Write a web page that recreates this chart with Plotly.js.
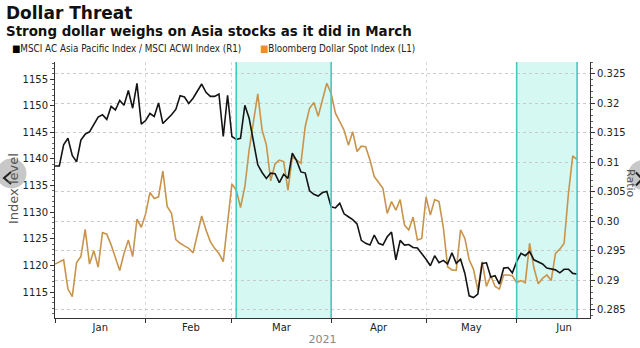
<!DOCTYPE html>
<html>
<head>
<meta charset="utf-8">
<script src="https://cdn.plot.ly/plotly-3.0.1.min.js"></script>
<style>
  html, body { margin: 0; padding: 0; background: #ffffff; }
  #chart { width: 640px; height: 348px; }
</style>
</head>
<body>
<div id="chart"></div>
<script>
// ---- Data (weekday observations, 2021) ----
const dates = [
  '2021-01-01','2021-01-04','2021-01-05','2021-01-06','2021-01-07','2021-01-08','2021-01-11','2021-01-12','2021-01-13','2021-01-14','2021-01-15','2021-01-18','2021-01-19','2021-01-20','2021-01-21','2021-01-22','2021-01-25','2021-01-26','2021-01-27','2021-01-28','2021-01-29',
  '2021-02-01','2021-02-02','2021-02-03','2021-02-04','2021-02-05','2021-02-08','2021-02-09','2021-02-10','2021-02-11','2021-02-12','2021-02-15','2021-02-16','2021-02-17','2021-02-18','2021-02-19','2021-02-22','2021-02-23','2021-02-24','2021-02-25','2021-02-26',
  '2021-03-01','2021-03-02','2021-03-03','2021-03-04','2021-03-05','2021-03-08','2021-03-09','2021-03-10','2021-03-11','2021-03-12','2021-03-15','2021-03-16','2021-03-17','2021-03-18','2021-03-19','2021-03-22','2021-03-23','2021-03-24','2021-03-25','2021-03-26','2021-03-29','2021-03-30','2021-03-31',
  '2021-04-01','2021-04-02','2021-04-05','2021-04-06','2021-04-07','2021-04-08','2021-04-09','2021-04-12','2021-04-13','2021-04-14','2021-04-15','2021-04-16','2021-04-19','2021-04-20','2021-04-21','2021-04-22','2021-04-23','2021-04-26','2021-04-27','2021-04-28','2021-04-29','2021-04-30',
  '2021-05-03','2021-05-04','2021-05-05','2021-05-06','2021-05-07','2021-05-10','2021-05-11','2021-05-12','2021-05-13','2021-05-14','2021-05-17','2021-05-18','2021-05-19','2021-05-20','2021-05-21','2021-05-24','2021-05-25','2021-05-26','2021-05-27','2021-05-28','2021-05-31',
  '2021-06-01','2021-06-02','2021-06-03','2021-06-04','2021-06-07','2021-06-08','2021-06-09','2021-06-10','2021-06-11','2021-06-14','2021-06-15','2021-06-16','2021-06-17','2021-06-18','2021-06-21'
];

// MSCI AC Asia Pacific / MSCI ACWI ratio (right axis, R1)
const msciRatio = [
  0.3094,0.3094,0.3130,0.3141,0.3112,0.3101,0.3138,0.3148,0.3152,0.3164,0.3177,0.3181,0.3173,0.3195,0.3189,0.3205,0.3197,0.3222,0.3192,0.3234,0.3165,
  0.3171,0.3183,0.3178,0.3201,0.3166,0.3173,0.3181,0.3190,0.3213,0.3211,0.3200,0.3209,0.3220,0.3233,0.3219,0.3212,0.3212,0.3216,0.3144,0.3214,
  0.3144,0.3139,0.3141,0.3197,0.3175,0.3138,0.3096,0.3083,0.3073,0.3082,0.3081,0.3066,0.3080,0.3073,0.3116,0.3103,0.3084,0.3082,0.3052,0.3046,0.3043,0.3049,0.3051,
  0.3025,0.3023,0.3031,0.3013,0.3008,0.3003,0.2996,0.2968,0.2963,0.2960,0.2977,0.2963,0.2960,0.2974,0.2982,0.2935,0.2968,0.2960,0.2961,0.2956,0.2955,0.2946,
  0.2936,0.2925,0.2942,0.2930,0.2934,0.2928,0.2947,0.2929,0.2936,0.2912,0.2874,0.2871,0.2877,0.2929,0.2930,0.2906,0.2908,0.2894,0.2921,0.2922,0.2913,
  0.2932,0.2946,0.2942,0.2949,0.2935,0.2932,0.2928,0.2921,0.2919,0.2918,0.2913,0.2919,0.2919,0.2912,0.2911
];

// Bloomberg Dollar Spot Index (left axis, L1)
const dollarSpot = [
  1120.3,1120.75,1121.1,1115.6,1114.2,1120.6,1121.7,1126.8,1120.3,1122.8,1119.7,1126.2,1125.9,1123.9,1121.4,1119.1,1122.3,1124.8,1121.7,1128.7,1127.2,
  1129.7,1133.7,1132.6,1132.9,1137.75,1131.1,1129.8,1124.9,1124.2,1123.7,1123.25,1122.4,1125.9,1129.3,1126.7,1124.5,1123.25,1122.3,1120.75,1128.6,
  1135.3,1134.2,1130.9,1134.8,1141.7,1147.0,1152.2,1145.4,1142.6,1135.9,1139.1,1139.8,1139.5,1134.1,1140.4,1139.8,1139.2,1146.1,1149.5,1150.6,1148.0,1151.1,1154.2,
  1152.3,1148.6,1147.0,1145.4,1142.6,1145.1,1141.4,1142.4,1142.3,1139.8,1136.7,1135.6,1134.5,1129.8,1132.0,1130.4,1132.4,1127.6,1126.7,1129.1,1124.8,1125.1,
  1132.9,1129.5,1132.4,1132.0,1127.2,1119.8,1119.2,1119.1,1126.7,1125.1,1121.1,1119.3,1115.4,1120.75,1116.1,1118.1,1116.1,1115.6,1118.25,1118.25,1118.1,
  1116.8,1117.2,1116.8,1124.2,1119.6,1116.6,1117.6,1118.25,1117.2,1122.3,1123.1,1124.2,1133.5,1140.6,1139.9
];

// Axis ticks / labels
const monthTickVals = ['2021-01-15 12:00','2021-02-15 12:00','2021-03-16 12:00','2021-04-16','2021-05-17 12:00','2021-06-16'];
const monthTickText = ['Jan','Feb','Mar','Apr','May','Jun'];
const monthStarts = ['2021-01-01','2021-02-01','2021-03-01','2021-04-01','2021-05-03','2021-06-01'];
const leftTicks = [1115,1120,1125,1130,1135,1140,1145,1150,1155];
const rightTicks = [0.285,0.29,0.295,0.30,0.305,0.31,0.315,0.32,0.325];
const rightTickText = ['0.285','0.29','0.295','0.30','0.305','0.31','0.315','0.32','0.325'];
const highlightBands = [['2021-03-02','2021-04-01'],['2021-06-01','2021-06-21']];

// ---- Layout geometry ----
const W = 640, H = 348;
const M = {l: 55, r: 50, t: 62, b: 30};
const PW = W - M.l - M.r, PH = H - M.t - M.b;
const px = x => (x - M.l) / PW;         // pixel -> paper x
const py = y => (H - M.b - y) / PH;     // pixel -> paper y

const FONT = 'DejaVu Sans, Verdana, sans-serif';
const COND = 'DejaVu Sans Condensed, DejaVu Sans, sans-serif';

const traces = [
  {
    x: dates, y: dollarSpot, yaxis: 'y', type: 'scatter', mode: 'lines',
    name: 'Bloomberg Dollar Spot Index (L1)',
    line: {color: '#c8944c', width: 1.6}
  },
  {
    x: dates, y: msciRatio, yaxis: 'y2', type: 'scatter', mode: 'lines',
    name: 'MSCI AC Asia Pacific Index / MSCI ACWI Index (R1)',
    line: {color: '#141414', width: 1.6}
  }
];

const shapes = [];
highlightBands.forEach(b => {
  shapes.push({type: 'rect', xref: 'x', yref: 'paper', x0: b[0], x1: b[1], y0: 0, y1: 1,
    fillcolor: '#d6f8f2', line: {width: 0}, layer: 'below'});
});
highlightBands.forEach(b => {
  b.forEach(d => shapes.push({type: 'line', xref: 'x', yref: 'paper', x0: d, x1: d, y0: 0, y1: 1,
    line: {color: '#45c9bf', width: 1.6}, layer: 'above'}));
});
// screenshot navigation circles
shapes.push({type: 'circle', xref: 'paper', yref: 'paper', xsizemode: 'pixel', ysizemode: 'pixel',
  xanchor: px(11.5), yanchor: py(173.5), x0: -15, x1: 15, y0: -15, y1: 15,
  fillcolor: 'rgba(185,185,185,0.78)', line: {width: 0}, layer: 'above'});
shapes.push({type: 'circle', xref: 'paper', yref: 'paper', xsizemode: 'pixel', ysizemode: 'pixel',
  xanchor: px(643), yanchor: py(175), x0: -15, x1: 15, y0: -15, y1: 15,
  fillcolor: 'rgba(185,185,185,0.78)', line: {width: 0}, layer: 'above'});
shapes.push({type: 'path', xref: 'paper', yref: 'paper', xsizemode: 'pixel', ysizemode: 'pixel',
  xanchor: px(7.5), yanchor: py(178), path: 'M 3.5 6 L -3.5 0 L 3.5 -6',
  line: {color: '#222', width: 2}, layer: 'above'});
shapes.push({type: 'path', xref: 'paper', yref: 'paper', xsizemode: 'pixel', ysizemode: 'pixel',
  xanchor: px(639), yanchor: py(179), path: 'M -3 6.5 L 3 0 L -3 -6.5',
  line: {color: '#222', width: 2}, layer: 'above'});

const annotations = [
  {xref: 'paper', yref: 'paper', x: px(4), y: py(13), xanchor: 'left', yanchor: 'middle', showarrow: false,
   text: '<b>Dollar Threat</b>', font: {family: FONT, size: 17, color: '#111'}},
  {xref: 'paper', yref: 'paper', x: px(4), y: py(31), xanchor: 'left', yanchor: 'middle', showarrow: false,
   text: '<b>Strong dollar weighs on Asia stocks as it did in March</b>', font: {family: FONT, size: 13.4, color: '#111'}},
  {xref: 'paper', yref: 'paper', x: px(10), y: py(48), xanchor: 'left', yanchor: 'middle', showarrow: false,
   text: '<span style="color:#000">■</span>MSCI AC Asia Pacific Index / MSCI ACWI Index (R1)', font: {family: COND, size: 9.8, color: '#222'}},
  {xref: 'paper', yref: 'paper', x: px(258), y: py(48), xanchor: 'left', yanchor: 'middle', showarrow: false,
   text: '<span style="color:#e8902c">■</span>Bloomberg Dollar Spot Index (L1)', font: {family: COND, size: 9.8, color: '#222'}},
  {xref: 'paper', yref: 'paper', x: px(13), y: py(189), xanchor: 'center', yanchor: 'middle', showarrow: false,
   textangle: -90, text: 'Index level', font: {family: FONT, size: 13, color: '#555'}},
  {xref: 'paper', yref: 'paper', x: px(631), y: py(183), xanchor: 'center', yanchor: 'middle', showarrow: false,
   textangle: 90, text: 'Ratio', font: {family: FONT, size: 11, color: '#555'}}
];

const layout = {
  width: W, height: H,
  margin: M,
  paper_bgcolor: '#ffffff', plot_bgcolor: '#ffffff',
  showlegend: false,
  font: {family: FONT, size: 10, color: '#222'},
  xaxis: {
    type: 'date',
    range: ['2021-01-01', '2021-06-24'],
    rangebreaks: [{bounds: ['sat', 'mon']}],
    tickmode: 'array', tickvals: monthTickVals, ticktext: monthTickText,
    ticks: '', showgrid: false, zeroline: false,
    showline: true, linecolor: '#333', linewidth: 1,
    tickfont: {family: FONT, size: 10, color: '#222'},
    minor: {tickmode: 'array', tickvals: monthStarts, ticks: 'outside', ticklen: 4, tickcolor: '#333',
            showgrid: true, gridcolor: '#d8d8d8', gridwidth: 1, griddash: 'dot'},
    title: {text: '2021', font: {family: FONT, size: 11, color: '#888'}, standoff: 3}
  },
  yaxis: {
    range: [1110.18, 1158.19],
    tickmode: 'array', tickvals: leftTicks,
    ticks: 'outside', ticklen: 4, tickcolor: '#333',
    showline: true, linecolor: '#333', linewidth: 1,
    showgrid: false, zeroline: false,
    tickfont: {family: FONT, size: 10, color: '#222'},
    minor: {tickmode: 'linear', tick0: 1110, dtick: 1, ticks: 'outside', ticklen: 2, tickcolor: '#666', showgrid: false}
  },
  yaxis2: {
    overlaying: 'y', side: 'right',
    range: [0.28364, 0.32703],
    tickmode: 'array', tickvals: rightTicks, ticktext: rightTickText,
    ticks: 'outside', ticklen: 4, tickcolor: '#333',
    showline: true, linecolor: '#333', linewidth: 1,
    showgrid: true, gridcolor: '#cacaca', gridwidth: 1, griddash: 'dot', zeroline: false,
    tickfont: {family: FONT, size: 10, color: '#222'},
    minor: {tickmode: 'linear', tick0: 0.285, dtick: 0.001, ticks: 'outside', ticklen: 2, tickcolor: '#666', showgrid: false}
  },
  shapes: shapes,
  annotations: annotations
};

Plotly.newPlot('chart', traces, layout, {staticPlot: true, displayModeBar: false});
</script>
</body>
</html>
